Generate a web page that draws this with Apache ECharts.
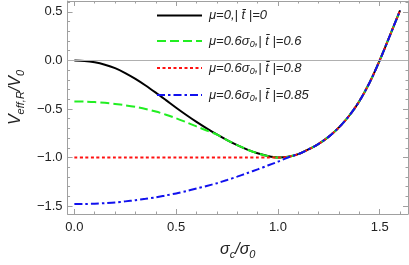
<!DOCTYPE html>
<html>
<head>
<meta charset="utf-8">
<script src="https://cdn.jsdelivr.net/npm/echarts@6/dist/echarts.min.js"></script>
<style>
html,body{margin:0;padding:0;background:#fff;}
#c{width:409px;height:265px;}
</style>
</head>
<body>
<div id="c"></div>
<script>
// sigma_c / sigma_0 grid
var sigma = [0,0.05,0.1,0.15,0.2,0.25,0.3,0.35,0.4,0.45,0.5,0.55,0.6,0.65,0.7,0.75,0.8,0.85,0.9,0.95,1.0,1.05,1.1,1.15,1.2,1.25,1.3,1.35,1.4,1.45,1.5,1.55,1.6];
// mu=0, |t|=0
var vBlack = [0,-0.005,-0.02,-0.045,-0.08,-0.13,-0.19,-0.258,-0.332,-0.409,-0.487,-0.562,-0.633,-0.7,-0.763,-0.821,-0.873,-0.919,-0.957,-0.985,-1.0,-0.993,-0.965,-0.917,-0.86,-0.785,-0.69,-0.57,-0.42,-0.23,0.0,0.255,0.515];
// mu=0.6 sigma0, |t|=0.6
var vGreen = [-0.422,-0.424,-0.429,-0.437,-0.448,-0.462,-0.479,-0.5,-0.527,-0.559,-0.596,-0.637,-0.68,-0.722,-0.763,-0.821,-0.873,-0.919,-0.957,-0.985,-1.0,-0.993,-0.965,-0.917,-0.86,-0.785,-0.69,-0.57,-0.42,-0.23,0.0,0.255,0.515];
// mu=0.6 sigma0, |t|=0.8
var vRed = [-1,-1,-1,-1,-1,-1,-1,-1,-1,-1,-1,-1,-1,-1,-1,-1,-1,-1,-1,-1,-1.0,-0.993,-0.965,-0.917,-0.86,-0.785,-0.69,-0.57,-0.42,-0.23,0.0,0.255,0.515];
// mu=0.6 sigma0, |t|=0.85
var vBlue = [-1.48,-1.479,-1.476,-1.47,-1.463,-1.452,-1.44,-1.426,-1.41,-1.39,-1.37,-1.346,-1.32,-1.293,-1.265,-1.232,-1.197,-1.16,-1.122,-1.083,-1.043,-1.0,-0.965,-0.917,-0.86,-0.785,-0.69,-0.57,-0.42,-0.23,0.0,0.255,0.515];

var seriesNames = ['mu0','g','r','b'];
var legendLabels = [
  '{i|μ=0,| t̄ |=0}',
  '{i|μ=0.6σ}{s|0}{i|,| t̄ |=0.6}',
  '{i|μ=0.6σ}{s|0}{i|,| t̄ |=0.8}',
  '{i|μ=0.6σ}{s|0}{i|,| t̄ |=0.85}'
];
var xMajor = [0,0.5,1.0,1.5];
var xMinor = [0.1,0.2,0.3,0.4,0.6,0.7,0.8,0.9,1.1,1.2,1.3,1.4,1.6];
var yMajor = [-1.5,-1.0,-0.5,0,0.5];
var yMinor = [-1.4,-1.3,-1.2,-1.1,-0.9,-0.8,-0.7,-0.6,-0.4,-0.3,-0.2,-0.1,0.1,0.2,0.3,0.4,0.6];

var XMIN = -0.0334, XMAX = 1.639, YMIN = -1.582, YMAX = 0.612;
var FONT = 'Liberation Sans, Arial, sans-serif';
var FRAME = '#a0a0a0';

function pairs(ys){ return sigma.map(function(x,i){ return [x, ys[i]]; }); }

function xAx(pos, ticks, len, showLine, showLabel){
  return {
    type:'value', min:XMIN, max:XMAX, position:pos,
    axisLine:{show:showLine, onZero:false, lineStyle:{color:FRAME,width:1}},
    axisTick:{show:true, inside:true, length:len, customValues:ticks, lineStyle:{color:FRAME,width:1}},
    axisLabel:{show:showLabel, customValues:ticks, color:'#222', fontSize:13, fontFamily:FONT, margin:7,
      formatter:function(v){ return v.toFixed(1).replace('-','\u2212'); }},
    splitLine:{show:false}
  };
}
function yAx(pos, ticks, len, showLine, showLabel){
  return {
    type:'value', min:YMIN, max:YMAX, position:pos,
    axisLine:{show:showLine, onZero:false, lineStyle:{color:FRAME,width:1}},
    axisTick:{show:true, inside:true, length:len, customValues:ticks, lineStyle:{color:FRAME,width:1}},
    axisLabel:{show:showLabel, customValues:ticks, color:'#222', fontSize:13, fontFamily:FONT, margin:5,
      formatter:function(v){ return v.toFixed(1).replace('-','\u2212'); }},
    splitLine:{show:false}
  };
}

var xs = [xAx('bottom', xMajor, 5, true, true), xAx('bottom', xMinor, 2.5, false, false),
          xAx('top', xMajor, 5, true, false), xAx('top', xMinor, 2.5, false, false)];
var ys = [yAx('left', yMajor, 5, true, true), yAx('left', yMinor, 2.5, false, false),
          yAx('right', yMajor, 5, true, false), yAx('right', yMinor, 2.5, false, false)];

xs[0].name = '{i|σ}{s|c}{i|/σ}{s|0}';
xs[0].nameLocation = 'middle';
xs[0].nameGap = 26;
xs[0].nameTextStyle = {color:'#222', fontFamily:FONT, rich:{
  i:{fontSize:16, fontStyle:'italic', fontFamily:FONT, color:'#222', lineHeight:20},
  s:{fontSize:11, fontStyle:'italic', fontFamily:FONT, color:'#222', lineHeight:12, verticalAlign:'bottom'}
}};
ys[0].name = '{i|V}{s|eff,R}{i|/V}{s|0}';
ys[0].nameLocation = 'middle';
ys[0].nameGap = 37;
ys[0].nameTextStyle = {color:'#222', fontFamily:FONT, padding:[0,0,0,20], rich:{
  i:{fontSize:16, fontStyle:'italic', fontFamily:FONT, color:'#222', lineHeight:20},
  s:{fontSize:11, fontStyle:'italic', fontFamily:FONT, color:'#222', lineHeight:12, verticalAlign:'bottom'}
}};

function line(name, ys_, color, type, width){
  return {
    name:name, type:'line', data:pairs(ys_), xAxisIndex:0, yAxisIndex:0,
    symbol:'none', showSymbol:false, smooth:0.3,
    lineStyle:{color:color, width:width, type:type, cap:'butt'},
    itemStyle:{color:color}
  };
}

var series = [
  line(seriesNames[0], vBlack, '#000000', 'solid', 2),
  line(seriesNames[1], vGreen, '#22ee22', [9,4], 2),
  line(seriesNames[2], vRed, '#ff1111', [3,2.5], 2),
  line(seriesNames[3], vBlue, '#1111ee', [8,3,2.5,3], 2)
];
series[0].markLine = {silent:true, symbol:'none', label:{show:false}, animation:false,
  lineStyle:{color:'#b0b0b0', width:1, type:'solid'}, data:[{yAxis:0}]};

var chart = echarts.init(document.getElementById('c'), null, {renderer:'canvas'});
chart.setOption({
  animation:false,
  backgroundColor:'#fff',
  grid:{left:57, right:1, top:1, bottom:49, containLabel:false},
  xAxis:xs, yAxis:ys,
  legend:{
    data:seriesNames, orient:'vertical', left:156, top:9, padding:0,
    itemWidth:45, itemHeight:14, itemGap:12.5,
    itemStyle:{opacity:0, color:'transparent', borderColor:'transparent', borderWidth:0},
    formatter:function(n){ return legendLabels[seriesNames.indexOf(n)]; },
    textStyle:{color:'#222', fontSize:13, fontFamily:FONT, padding:[0,0,0,2], rich:{
      i:{fontSize:13, fontStyle:'italic', fontFamily:FONT, color:'#222', lineHeight:16},
      s:{fontSize:9, fontStyle:'italic', fontFamily:FONT, color:'#222', lineHeight:10, verticalAlign:'bottom'}
    }}
  },
  series:series
});
</script>
</body>
</html>
